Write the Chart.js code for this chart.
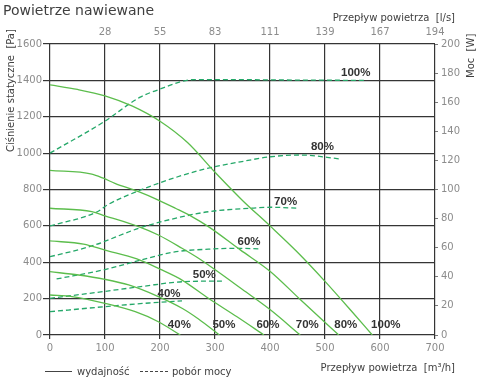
<!DOCTYPE html>
<html>
<head>
<meta charset="utf-8">
<script src="https://cdn.jsdelivr.net/npm/chart.js@4.4.1/dist/chart.umd.min.js"></script>
<style>
html,body{margin:0;padding:0;background:#fff;}
#wrap{width:480px;height:380px;}
</style>
</head>
<body>
<div id="wrap"><canvas id="c" width="480" height="380"></canvas></div>
<script>
// ---- data (flow in m³/h, pressure in Pa, power in W) ----
const speedLabels = ['40%', '50%', '60%', '70%', '80%', '100%'];

const flow40  = [0, 40, 100, 155, 197, 237];
const pres40  = [220, 211, 174, 128, 73, 0];
const flow50  = [0, 52, 100, 143, 197, 240, 270, 308];
const pres50  = [348, 330, 306, 275, 211, 147, 88, 0];
const flow60  = [0, 61, 100, 158, 200, 240, 288, 340, 389];
const pres60  = [517, 500, 467, 418, 362, 302, 202, 100, 0];
const flow70  = [0, 76, 100, 161, 197, 240, 270, 301, 350, 400, 455];
const pres70  = [697, 678, 655, 596, 550, 477, 422, 357, 250, 140, 0];
const flow80  = [0, 76, 97, 118, 161, 197, 228, 258, 288, 346, 401, 455, 525];
const pres80  = [905, 885, 862, 834, 788, 742, 697, 651, 596, 468, 348, 195, 0];
const flow100 = [0, 50, 100, 150, 200, 250, 300, 350, 400, 450, 500, 550, 586];
const pres100 = [1375, 1350, 1315, 1258, 1175, 1058, 895, 740, 600, 455, 295, 125, 0];

const pFlow40  = [0, 100, 180, 240];
const power40  = [16, 19.5, 22, 23.4];
const pFlow50  = [0, 100, 170, 240, 316];
const power50  = [25.2, 30, 33.5, 36.6, 37.1];
const pFlow60  = [12, 100, 165, 225, 288, 346, 380];
const power60  = [38.5, 45, 51.5, 57, 59, 59.6, 59.2];
const pFlow70  = [0, 76, 161, 220, 288, 364, 401, 452];
const power70  = [53.8, 61.2, 73.3, 79.5, 84.7, 87.1, 87.8, 87.1];
const pFlow80  = [0, 86, 104, 165, 237, 286, 346, 401, 455, 528];
const power80  = [75, 84.7, 89.3, 99.7, 109.3, 114.5, 119, 122.5, 123.7, 121];
const pFlow100 = [0, 98, 164, 200, 237, 260, 320, 450, 574];
const power100 = [125, 146.5, 163.5, 169, 174, 175.5, 175.5, 175.2, 175];

const flowTicksLs = ['', '28', '55', '83', '111', '139', '167', '194'];

const pressureCurves = [[flow40, pres40], [flow50, pres50], [flow60, pres60], [flow70, pres70], [flow80, pres80], [flow100, pres100]];
const powerCurves = [[pFlow40, power40], [pFlow50, power50], [pFlow60, power60], [pFlow70, power70], [pFlow80, power80], [pFlow100, power100]];

// ---- styles ----
const SOLID = '#5cbd4c';
const DASH = '#25a869';
const GRID = '#353535';
const TICK = '#8c8c8c';
const TXT = '#404040';
const FONT = 'DejaVu Sans';

function pts(xs, ys) { return xs.map((x, i) => ({ x: x, y: ys[i] })); }

const datasets = [];
pressureCurves.forEach((c, i) => datasets.push({
  label: 'wydajność ' + speedLabels[i], data: pts(c[0], c[1]), xAxisID: 'x', yAxisID: 'y',
  borderColor: SOLID, borderWidth: 1.3, pointRadius: 0, fill: false,
  cubicInterpolationMode: 'monotone', kind: 'pressure', idx: i
}));
powerCurves.forEach((c, i) => datasets.push({
  label: 'pobór mocy ' + speedLabels[i], data: pts(c[0], c[1]), xAxisID: 'x', yAxisID: 'y2',
  borderColor: DASH, borderWidth: 1.3, borderDash: [5, 3], pointRadius: 0, fill: false,
  cubicInterpolationMode: 'monotone', kind: 'power', idx: i
}));

// label offsets (pixels) relative to the last point of each curve
const pressLabelOffset = [[-1, -10], [4.5, -10], [4, -10], [7, -10], [7, -10], [13.5, -10]];
const powerLabelOffset = [[-13, -7], [-19.5, -6], [-10, -7], [-13, -6.6], [-18, -12], [-10, -8]];

const decor = {
  id: 'decor',
  afterDatasetsDraw(chart) {
    const ctx = chart.ctx;
    ctx.save();
    ctx.font = 'bold 11.5px "Liberation Sans", Arial, sans-serif';
    ctx.fillStyle = '#333';
    ctx.textAlign = 'center';
    ctx.textBaseline = 'middle';
    chart.data.datasets.forEach((ds) => {
      const last = ds.data[ds.data.length - 1];
      const xs = chart.scales[ds.xAxisID], ys = chart.scales[ds.yAxisID];
      const px = xs.getPixelForValue(last.x), py = ys.getPixelForValue(last.y);
      const off = ds.kind === 'pressure' ? pressLabelOffset[ds.idx] : powerLabelOffset[ds.idx];
      ctx.fillText(speedLabels[ds.idx], px + off[0], py + off[1]);
    });
    ctx.restore();
  },
  afterDraw(chart) {
    const ctx = chart.ctx;
    ctx.save();
    ctx.fillStyle = TXT;
    ctx.textBaseline = 'alphabetic';
    ctx.font = '14px "' + FONT + '"';
    ctx.textAlign = 'left';
    ctx.fillText('Powietrze nawiewane', 3, 14.5);
    ctx.font = '10px "' + FONT + '"';
    ctx.textAlign = 'right';
    ctx.fillText('Przepływ powietrza  [l/s]', 455, 20.5);
    ctx.fillText('Przepływ powietrza  [m³/h]', 455, 371);
    ctx.textAlign = 'left';
    ctx.save();
    ctx.translate(14, 152);
    ctx.rotate(-Math.PI / 2);
    ctx.fillText('Ciśnienie statyczne  [Pa]', 0, 0);
    ctx.restore();
    ctx.save();
    ctx.translate(473.5, 78);
    ctx.rotate(-Math.PI / 2);
    ctx.fillText('Moc  [W]', 0, 0);
    ctx.restore();
    // legend
    ctx.strokeStyle = '#444';
    ctx.lineWidth = 1;
    ctx.beginPath(); ctx.moveTo(45, 371.5); ctx.lineTo(72, 371.5); ctx.stroke();
    ctx.setLineDash([3, 2]);
    ctx.beginPath(); ctx.moveTo(140, 371.5); ctx.lineTo(168, 371.5); ctx.stroke();
    ctx.setLineDash([]);
    ctx.fillText('wydajność', 77, 374.5);
    ctx.fillText('pobór mocy', 172, 374.5);
    ctx.restore();
  }
};

const tickFont = { family: FONT, size: 10 };
const plain = (v) => String(v);

new Chart(document.getElementById('c'), {
  type: 'line',
  data: { datasets: datasets },
  options: {
    responsive: false,
    animation: false,
    events: [],
    layout: { padding: 0 },
    plugins: { legend: { display: false }, tooltip: { enabled: false }, title: { display: false } },
    scales: {
      x: {
        type: 'linear', position: 'bottom', min: 0, max: 700,
        ticks: { stepSize: 100, color: TICK, font: tickFont, padding: 3, maxRotation: 0, callback: plain },
        grid: { color: GRID, lineWidth: 1.2, tickLength: 4, tickColor: GRID },
        border: { display: false },
        afterFit(s) { s.height = 45; }
      },
      x2: {
        type: 'linear', position: 'top', min: 0, max: 700,
        ticks: { stepSize: 100, color: TICK, font: tickFont, padding: 6, maxRotation: 0,
          callback: (v) => flowTicksLs[Math.round(v / 100)] },
        grid: { display: false, drawTicks: false },
        border: { display: false },
        afterFit(s) { s.height = 44; }
      },
      y: {
        type: 'linear', position: 'left', min: 0, max: 1600,
        ticks: { stepSize: 200, color: TICK, font: tickFont, padding: 1, callback: plain },
        grid: { color: GRID, lineWidth: 1.2, tickLength: 7, tickColor: GRID },
        border: { display: false },
        afterFit(s) { s.width = 50; }
      },
      y2: {
        type: 'linear', position: 'right', min: 0, max: 200,
        ticks: { stepSize: 20, color: TICK, font: tickFont, padding: 3, callback: plain },
        grid: { drawOnChartArea: false, tickLength: 3, tickColor: '#777', lineWidth: 1 },
        border: { display: false },
        afterFit(s) { s.width = 45; }
      }
    }
  },
  plugins: [decor]
});
</script>
</body>
</html>
